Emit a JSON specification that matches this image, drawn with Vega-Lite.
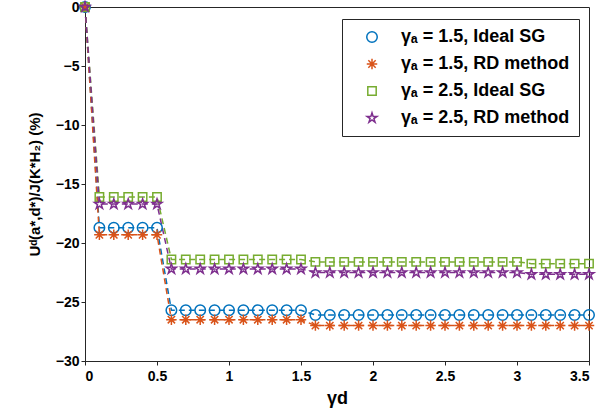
{
  "$schema": "https://vega.github.io/schema/vega-lite/v6.json",
  "autosize": "none",
  "padding": {"left": 85, "top": 7, "right": 22, "bottom": 56},
  "width": 504,
  "height": 354,
  "background": "white",
  "config": {
    "view": {"stroke": "#262626"},
    "font": "Liberation Sans",
    "axis": {
      "grid": false,
      "domainColor": "#262626",
      "tickColor": "#262626",
      "labelColor": "#000000",
      "labelFont": "Liberation Sans",
      "labelFontWeight": "bold",
      "labelFontSize": 14,
      "titleFont": "Liberation Sans",
      "titleFontWeight": "bold",
      "titleColor": "#000000",
      "ticks": true,
      "tickSize": 4,
      "domainWidth": 1,
      "tickWidth": 1
    }
  },
  "data": {
    "values": [
      {"x": 0, "y": 0, "s": "a"},
      {"x": 0.1, "y": -18.7, "s": "a"},
      {"x": 0.2, "y": -18.7, "s": "a"},
      {"x": 0.3, "y": -18.7, "s": "a"},
      {"x": 0.4, "y": -18.7, "s": "a"},
      {"x": 0.5, "y": -18.7, "s": "a"},
      {"x": 0.6, "y": -25.7, "s": "a"},
      {"x": 0.7, "y": -25.7, "s": "a"},
      {"x": 0.8, "y": -25.7, "s": "a"},
      {"x": 0.9, "y": -25.7, "s": "a"},
      {"x": 1.0, "y": -25.7, "s": "a"},
      {"x": 1.1, "y": -25.7, "s": "a"},
      {"x": 1.2, "y": -25.7, "s": "a"},
      {"x": 1.3, "y": -25.7, "s": "a"},
      {"x": 1.4, "y": -25.7, "s": "a"},
      {"x": 1.5, "y": -25.7, "s": "a"},
      {"x": 1.6, "y": -26.1, "s": "a"},
      {"x": 1.7, "y": -26.1, "s": "a"},
      {"x": 1.8, "y": -26.1, "s": "a"},
      {"x": 1.9, "y": -26.1, "s": "a"},
      {"x": 2.0, "y": -26.1, "s": "a"},
      {"x": 2.1, "y": -26.1, "s": "a"},
      {"x": 2.2, "y": -26.1, "s": "a"},
      {"x": 2.3, "y": -26.1, "s": "a"},
      {"x": 2.4, "y": -26.1, "s": "a"},
      {"x": 2.5, "y": -26.1, "s": "a"},
      {"x": 2.6, "y": -26.1, "s": "a"},
      {"x": 2.7, "y": -26.1, "s": "a"},
      {"x": 2.8, "y": -26.1, "s": "a"},
      {"x": 2.9, "y": -26.1, "s": "a"},
      {"x": 3.0, "y": -26.1, "s": "a"},
      {"x": 3.1, "y": -26.1, "s": "a"},
      {"x": 3.2, "y": -26.1, "s": "a"},
      {"x": 3.3, "y": -26.1, "s": "a"},
      {"x": 3.4, "y": -26.1, "s": "a"},
      {"x": 3.5, "y": -26.1, "s": "a"},
      {"x": 0, "y": 0, "s": "b"},
      {"x": 0.1, "y": -19.3, "s": "b"},
      {"x": 0.2, "y": -19.3, "s": "b"},
      {"x": 0.3, "y": -19.3, "s": "b"},
      {"x": 0.4, "y": -19.3, "s": "b"},
      {"x": 0.5, "y": -19.3, "s": "b"},
      {"x": 0.6, "y": -26.5, "s": "b"},
      {"x": 0.7, "y": -26.5, "s": "b"},
      {"x": 0.8, "y": -26.5, "s": "b"},
      {"x": 0.9, "y": -26.5, "s": "b"},
      {"x": 1.0, "y": -26.5, "s": "b"},
      {"x": 1.1, "y": -26.5, "s": "b"},
      {"x": 1.2, "y": -26.5, "s": "b"},
      {"x": 1.3, "y": -26.5, "s": "b"},
      {"x": 1.4, "y": -26.5, "s": "b"},
      {"x": 1.5, "y": -26.5, "s": "b"},
      {"x": 1.6, "y": -27.0, "s": "b"},
      {"x": 1.7, "y": -27.0, "s": "b"},
      {"x": 1.8, "y": -27.0, "s": "b"},
      {"x": 1.9, "y": -27.0, "s": "b"},
      {"x": 2.0, "y": -27.0, "s": "b"},
      {"x": 2.1, "y": -27.0, "s": "b"},
      {"x": 2.2, "y": -27.0, "s": "b"},
      {"x": 2.3, "y": -27.0, "s": "b"},
      {"x": 2.4, "y": -27.0, "s": "b"},
      {"x": 2.5, "y": -27.0, "s": "b"},
      {"x": 2.6, "y": -27.0, "s": "b"},
      {"x": 2.7, "y": -27.0, "s": "b"},
      {"x": 2.8, "y": -27.0, "s": "b"},
      {"x": 2.9, "y": -27.0, "s": "b"},
      {"x": 3.0, "y": -27.0, "s": "b"},
      {"x": 3.1, "y": -27.0, "s": "b"},
      {"x": 3.2, "y": -27.0, "s": "b"},
      {"x": 3.3, "y": -27.0, "s": "b"},
      {"x": 3.4, "y": -27.0, "s": "b"},
      {"x": 3.5, "y": -27.0, "s": "b"},
      {"x": 0, "y": 0, "s": "c"},
      {"x": 0.1, "y": -16.1, "s": "c"},
      {"x": 0.2, "y": -16.1, "s": "c"},
      {"x": 0.3, "y": -16.1, "s": "c"},
      {"x": 0.4, "y": -16.1, "s": "c"},
      {"x": 0.5, "y": -16.1, "s": "c"},
      {"x": 0.6, "y": -21.4, "s": "c"},
      {"x": 0.7, "y": -21.4, "s": "c"},
      {"x": 0.8, "y": -21.4, "s": "c"},
      {"x": 0.9, "y": -21.4, "s": "c"},
      {"x": 1.0, "y": -21.4, "s": "c"},
      {"x": 1.1, "y": -21.4, "s": "c"},
      {"x": 1.2, "y": -21.4, "s": "c"},
      {"x": 1.3, "y": -21.4, "s": "c"},
      {"x": 1.4, "y": -21.4, "s": "c"},
      {"x": 1.5, "y": -21.4, "s": "c"},
      {"x": 1.6, "y": -21.6, "s": "c"},
      {"x": 1.7, "y": -21.6, "s": "c"},
      {"x": 1.8, "y": -21.6, "s": "c"},
      {"x": 1.9, "y": -21.6, "s": "c"},
      {"x": 2.0, "y": -21.6, "s": "c"},
      {"x": 2.1, "y": -21.6, "s": "c"},
      {"x": 2.2, "y": -21.6, "s": "c"},
      {"x": 2.3, "y": -21.6, "s": "c"},
      {"x": 2.4, "y": -21.6, "s": "c"},
      {"x": 2.5, "y": -21.6, "s": "c"},
      {"x": 2.6, "y": -21.6, "s": "c"},
      {"x": 2.7, "y": -21.6, "s": "c"},
      {"x": 2.8, "y": -21.6, "s": "c"},
      {"x": 2.9, "y": -21.6, "s": "c"},
      {"x": 3.0, "y": -21.6, "s": "c"},
      {"x": 3.1, "y": -21.75, "s": "c"},
      {"x": 3.2, "y": -21.75, "s": "c"},
      {"x": 3.3, "y": -21.75, "s": "c"},
      {"x": 3.4, "y": -21.75, "s": "c"},
      {"x": 3.5, "y": -21.75, "s": "c"},
      {"x": 0, "y": 0, "s": "d"},
      {"x": 0.1, "y": -16.7, "s": "d"},
      {"x": 0.2, "y": -16.7, "s": "d"},
      {"x": 0.3, "y": -16.7, "s": "d"},
      {"x": 0.4, "y": -16.7, "s": "d"},
      {"x": 0.5, "y": -16.7, "s": "d"},
      {"x": 0.6, "y": -22.2, "s": "d"},
      {"x": 0.7, "y": -22.2, "s": "d"},
      {"x": 0.8, "y": -22.2, "s": "d"},
      {"x": 0.9, "y": -22.2, "s": "d"},
      {"x": 1.0, "y": -22.2, "s": "d"},
      {"x": 1.1, "y": -22.2, "s": "d"},
      {"x": 1.2, "y": -22.2, "s": "d"},
      {"x": 1.3, "y": -22.2, "s": "d"},
      {"x": 1.4, "y": -22.2, "s": "d"},
      {"x": 1.5, "y": -22.2, "s": "d"},
      {"x": 1.6, "y": -22.5, "s": "d"},
      {"x": 1.7, "y": -22.5, "s": "d"},
      {"x": 1.8, "y": -22.5, "s": "d"},
      {"x": 1.9, "y": -22.5, "s": "d"},
      {"x": 2.0, "y": -22.5, "s": "d"},
      {"x": 2.1, "y": -22.5, "s": "d"},
      {"x": 2.2, "y": -22.5, "s": "d"},
      {"x": 2.3, "y": -22.5, "s": "d"},
      {"x": 2.4, "y": -22.5, "s": "d"},
      {"x": 2.5, "y": -22.5, "s": "d"},
      {"x": 2.6, "y": -22.5, "s": "d"},
      {"x": 2.7, "y": -22.5, "s": "d"},
      {"x": 2.8, "y": -22.5, "s": "d"},
      {"x": 2.9, "y": -22.5, "s": "d"},
      {"x": 3.0, "y": -22.5, "s": "d"},
      {"x": 3.1, "y": -22.65, "s": "d"},
      {"x": 3.2, "y": -22.65, "s": "d"},
      {"x": 3.3, "y": -22.65, "s": "d"},
      {"x": 3.4, "y": -22.65, "s": "d"},
      {"x": 3.5, "y": -22.65, "s": "d"}
    ]
  },
  "layer": [
    {
      "mark": {"type": "line", "strokeDash": [6, 4], "strokeWidth": 1.5},
      "encoding": {
        "x": {
          "field": "x",
          "type": "quantitative",
          "scale": {"domain": [0, 3.5], "nice": false},
          "axis": {
            "values": [0, 0.5, 1, 1.5, 2, 2.5, 3, 3.5],
            "format": "~g",
            "labelPadding": 4,
            "title": "γd",
            "titleFontSize": 18,
            "titlePadding": 6
          }
        },
        "y": {
          "field": "y",
          "type": "quantitative",
          "scale": {"domain": [-30, 0], "nice": false},
          "axis": {
            "values": [-30, -25, -20, -15, -10, -5, 0],
            "labelPadding": 2,
            "title": "Uᵈ(a*,d*)/J(K*H₂) (%)",
            "titleFontSize": 15,
            "titlePadding": 13
          }
        },
        "color": {"field": "s", "type": "nominal"},
        "detail": {"field": "s"},
        "order": {"field": "x"}
      }
    },
    {
      "mark": {"type": "point", "filled": false, "strokeWidth": 1.5, "size": 110, "opacity": 1},
      "encoding": {
        "x": {"field": "x", "type": "quantitative"},
        "y": {"field": "y", "type": "quantitative"},
        "color": {
          "field": "s",
          "type": "nominal",
          "scale": {
            "domain": ["a", "b", "c", "d"],
            "range": ["#0072BD", "#D95319", "#77AC30", "#7E2F8E"]
          },
          "legend": {
            "orient": "none",
            "legendX": 257,
            "legendY": 12,
            "title": null,
            "strokeColor": "#262626",
            "fillColor": "white",
            "padding": 9,
            "labelFont": "Liberation Sans",
            "labelFontWeight": "bold",
            "labelFontSize": 18,
            "labelColor": "#000000",
            "labelLimit": 400,
            "labelOffset": 20,
            "rowPadding": 9,
            "symbolSize": 110,
            "symbolStrokeWidth": 1.5,
            "symbolOffset": 12,
            "labelExpr": "{'a': 'γₐ = 1.5, Ideal SG', 'b': 'γₐ = 1.5, RD method', 'c': 'γₐ = 2.5, Ideal SG', 'd': 'γₐ = 2.5, RD method'}[datum.value]"
          }
        },
        "shape": {
          "field": "s",
          "type": "nominal",
          "scale": {
            "domain": ["a", "b", "c", "d"],
            "range": [
              "circle",
              "M-1,0L1,0M0,-1L0,1M-0.7,-0.7L0.7,0.7M-0.7,0.7L0.7,-0.7",
              "M-0.8,-0.8L0.8,-0.8L0.8,0.8L-0.8,0.8Z",
              "M0,-1L0.2245,-0.309L0.951,-0.309L0.363,0.118L0.588,0.809L0,0.382L-0.588,0.809L-0.363,0.118L-0.951,-0.309L-0.2245,-0.309Z"
            ]
          }
        }
      }
    }
  ]
}
